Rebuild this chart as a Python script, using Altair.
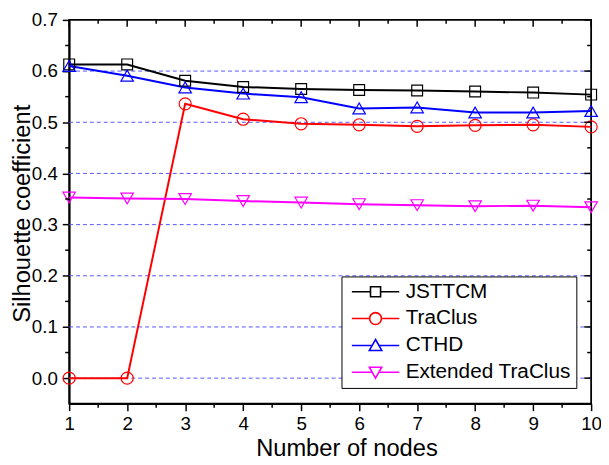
import altair as alt
import pandas as pd

# ---- data ----
nodes = [1, 2, 3, 4, 5, 6, 7, 8, 9, 10]
series_names = ["JSTTCM", "TraClus", "CTHD", "Extended TraClus"]
jsttcm = [0.613, 0.613, 0.581, 0.569, 0.565, 0.563, 0.562, 0.560, 0.558, 0.554]
traclus = [0.000, 0.000, 0.536, 0.506, 0.497, 0.495, 0.492, 0.494, 0.495, 0.491]
cthd = [0.610, 0.591, 0.568, 0.556, 0.549, 0.527, 0.529, 0.519, 0.519, 0.522]
ext_traclus = [0.353, 0.351, 0.350, 0.346, 0.343, 0.340, 0.338, 0.336, 0.337, 0.334]

x_major = [1, 2, 3, 4, 5, 6, 7, 8, 9, 10]
x_minor = [1.5, 2.5, 3.5, 4.5, 5.5, 6.5, 7.5, 8.5, 9.5]
y_major = [0.0, 0.1, 0.2, 0.3, 0.4, 0.5, 0.6, 0.7]
y_minor = [0.05, 0.15, 0.25, 0.35, 0.45, 0.55, 0.65]
grid_vals = [0.0, 0.1, 0.2, 0.3, 0.4, 0.5, 0.6]

values = [jsttcm, traclus, cthd, ext_traclus]
rows = []
for name, vals in zip(series_names, values):
    for n, v in zip(nodes, vals):
        rows.append({"nodes": n, "value": v, "series": name})
df = pd.DataFrame(rows)

colors = ["#000000", "#ff0000", "#0000ff", "#ff00ff"]
shapes = ["square", "circle", "triangle-up", "triangle-down"]
sizes = [120, 150, 160, 160]

# legend symbols: marker with line segments through it (unit = half symbol)
K = 0.5523
legend_paths = [
    "M-4,0H-0.85M0.85,0H4M-0.85,-0.85H0.85V0.85H-0.85Z",
    "M-4,0H-1M1,0H4M1,0C1,{k},{k},1,0,1C-{k},1,-1,{k},-1,0C-1,-{k},-{k},-1,0,-1C{k},-1,1,-{k},1,0Z".format(k=K),
    "M-4,0H-0.57M0.57,0H4M0,-1L1.05,0.85L-1.05,0.85Z",
    "M-4,0H-0.57M0.57,0H4M0,1L1.05,-0.85L-1.05,-0.85Z",
]

W, H = 529, 389
FONT = "Liberation Sans"

xscale = alt.Scale(domain=[1, 10], nice=False, zero=False)
yscale = alt.Scale(domain=[-0.05, 0.7], nice=False, zero=False)

xaxis = alt.Axis(
    values=x_major, title="Number of nodes", grid=False,
    labelFont=FONT, labelFontSize=19, labelColor="black",
    labelBaseline="alphabetic", labelPadding=19, labelFlush=False,
    tickSize=7, tickWidth=1.5, tickColor="black",
    domainColor="black", domainWidth=1.8,
    titleFont=FONT, titleFontSize=24, titleFontWeight="normal", titleColor="black",
    titleX=281, titleY=52, titleBaseline="alphabetic", titleAlign="center",
)
yaxis = alt.Axis(
    values=y_major, format=".1f", title="Silhouette coefficient", grid=False,
    labelFont=FONT, labelFontSize=19, labelColor="black", labelPadding=5,
    labelFlush=False,
    tickSize=7, tickWidth=1.5, tickColor="black",
    domainColor="black", domainWidth=1.8,
    titleFont=FONT, titleFontSize=24, titleFontWeight="normal", titleColor="black",
    titleX=-40, titleY=196, titleBaseline="alphabetic", titleAngle=-90,
    titleAlign="center",
)


def X(field):
    return alt.X(field, scale=xscale, axis=xaxis)


def Y(field):
    return alt.Y(field, scale=yscale, axis=yaxis)


base = alt.Chart(df)

grid = alt.Chart(pd.DataFrame({"value": grid_vals})).mark_rule(
    color="#5555ff", strokeWidth=1, strokeDash=[4, 3]
).encode(y=Y("value:Q"))

layers = [grid]

# lines
for name, col in zip(series_names, colors):
    layers.append(
        base.transform_filter(alt.datum.series == name)
        .mark_line(color=col, strokeWidth=2)
        .encode(x=X("nodes:Q"), y=Y("value:Q"))
    )

# markers
for name, col, shp, sz in zip(series_names, colors, shapes, sizes):
    layers.append(
        base.transform_filter(alt.datum.series == name)
        .mark_point(shape=shp, filled=False, color=col, strokeWidth=1.2, size=sz, opacity=1)
        .encode(x=X("nodes:Q"), y=Y("value:Q"))
    )

legend = alt.Legend(
    orient="none", legendX=276, legendY=260, title=None,
    labelFont=FONT, labelFontSize=21, labelColor="black", labelLimit=0,
    symbolSize=144, symbolStrokeWidth=1.6, symbolOffset=19, labelOffset=20,
    padding=5, rowPadding=5.2, strokeColor="black", fillColor="white",
)
legend_layer = base.mark_point(filled=False, opacity=0, strokeWidth=1.6).encode(
    x=X("nodes:Q"),
    y=Y("value:Q"),
    color=alt.Color("series:N", scale=alt.Scale(domain=series_names, range=colors),
                    legend=legend, sort=series_names),
    shape=alt.Shape("series:N", scale=alt.Scale(domain=series_names, range=legend_paths),
                    legend=legend, sort=series_names),
)
layers.append(legend_layer)

# mirrored / minor ticks
tick_col = "black"
layers.append(
    alt.Chart(pd.DataFrame({"nodes": x_major})).mark_rule(color=tick_col, strokeWidth=1.5)
    .encode(x=X("nodes:Q"), y=alt.value(0), y2=alt.value(7))
)
layers.append(
    alt.Chart(pd.DataFrame({"nodes": x_minor})).mark_rule(color=tick_col, strokeWidth=1.5)
    .encode(x=X("nodes:Q"), y=alt.value(0), y2=alt.value(4))
)
layers.append(
    alt.Chart(pd.DataFrame({"nodes": x_minor})).mark_rule(color=tick_col, strokeWidth=1.5)
    .encode(x=X("nodes:Q"), y=alt.value(H), y2=alt.value(H + 4))
)
layers.append(
    alt.Chart(pd.DataFrame({"value": y_major})).mark_rule(color=tick_col, strokeWidth=1.5)
    .encode(y=Y("value:Q"), x=alt.value(W), x2=alt.value(W - 7))
)
layers.append(
    alt.Chart(pd.DataFrame({"value": y_minor})).mark_rule(color=tick_col, strokeWidth=1.5)
    .encode(y=Y("value:Q"), x=alt.value(W), x2=alt.value(W - 4))
)
layers.append(
    alt.Chart(pd.DataFrame({"value": y_minor})).mark_rule(color=tick_col, strokeWidth=1.5)
    .encode(y=Y("value:Q"), x=alt.value(0), x2=alt.value(-4))
)

chart = (
    alt.layer(*layers)
    .properties(
        width=W, height=H,
        autosize=alt.AutoSizeParams(type="none"),
        padding={"left": 62, "top": 9, "right": 10, "bottom": 57},
        background="white",
    )
    .configure_view(stroke="black", strokeWidth=1.8)
)

chart.save("out.html", embed_options={"renderer": "svg", "actions": False})
